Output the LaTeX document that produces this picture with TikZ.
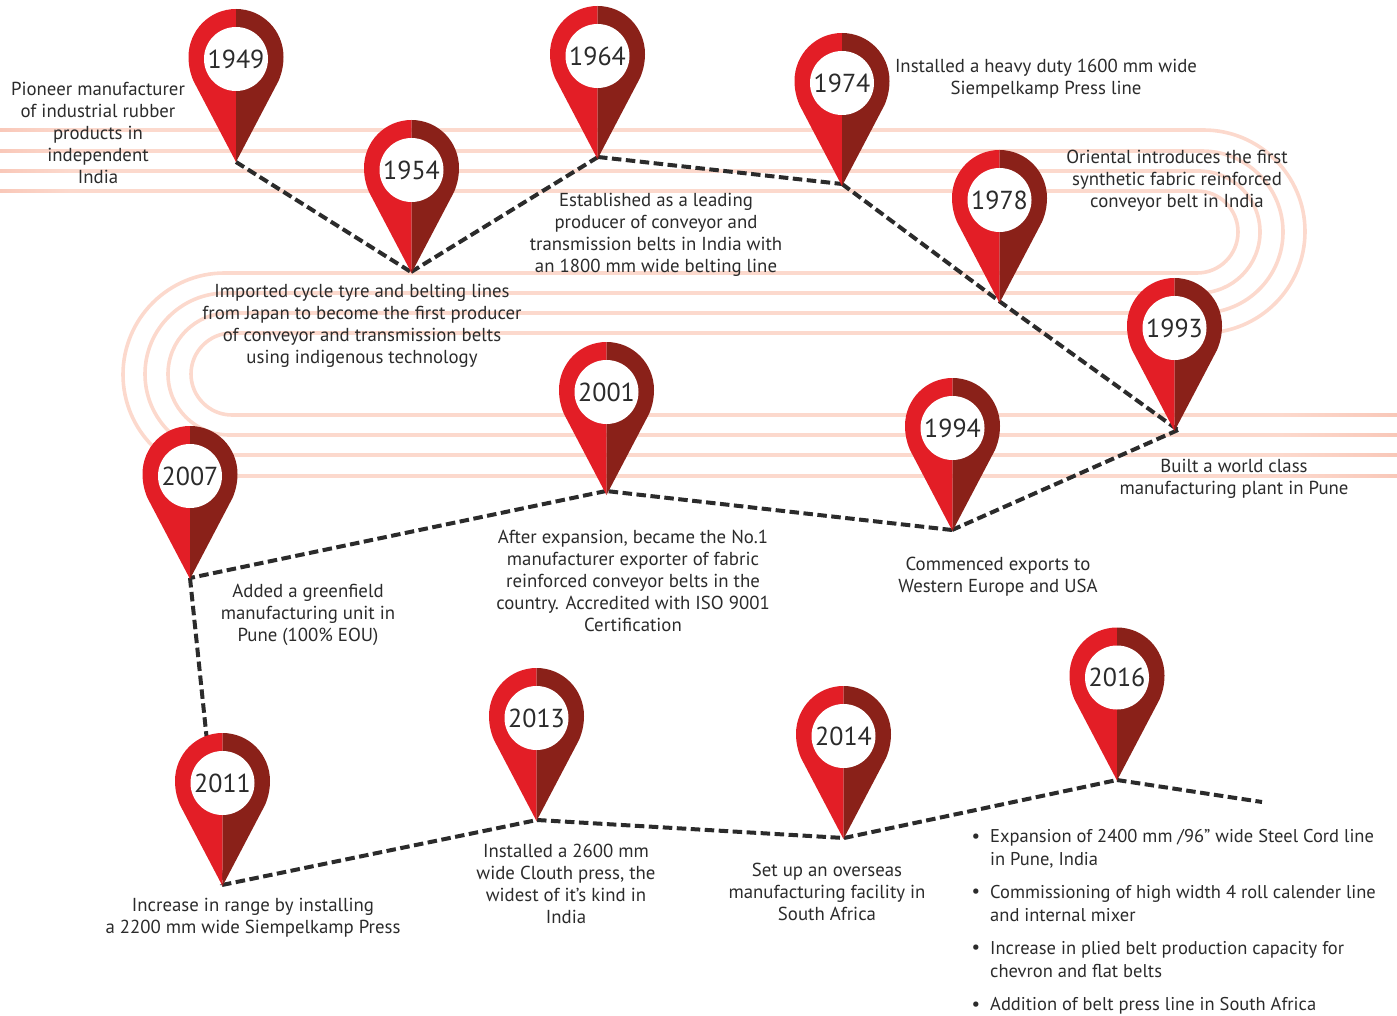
\documentclass[tikz,border=0pt]{standalone}
\usepackage{fontspec}
\setmainfont{PT Sans}
\definecolor{pinred}{HTML}{E31E26}
\definecolor{pindark}{HTML}{8A2119}
\definecolor{belt}{HTML}{FCD9CD}
\definecolor{beltdk}{HTML}{F9C8B9}
\definecolor{ink}{HTML}{2B2B2B}
\tikzset{
  beltline/.style={draw=belt,line width=3.6pt},
  conn/.style={draw=ink,line width=4pt,dash pattern=on 9.5pt off 4.5pt},
  yearlabel/.style={circle,fill=white,inner sep=0pt,minimum size=64pt,text=ink,font=\fontsize{26}{28}\selectfont},
  note/.style={align=center,text=ink,inner sep=0pt,font=\fontsize{18.8}{22}\selectfont},
  bullettext/.style={align=left,anchor=west,text=ink,inner sep=0pt,font=\fontsize{18.5}{23}\selectfont},
  bulletmark/.style={text=ink,inner sep=0pt,font=\fontsize{19}{23}\selectfont}
}
\newcommand{\mappin}[3]{%
  \begin{scope}[shift={(#1,#2)}]
    \fill[pinred] (0,103) -- (-42.5,22) .. controls (-45.5,15) and (-47.5,7) .. (-47.5,-2)
      .. controls (-47.5,-28.5) and (-26.5,-50) .. (0,-50) -- cycle;
    \fill[pindark] (0,103) -- (42.5,22) .. controls (45.5,15) and (47.5,7) .. (47.5,-2)
      .. controls (47.5,-28.5) and (26.5,-50) .. (0,-50) -- cycle;
    \node[yearlabel] (y#3) at (0,0) {#3};
  \end{scope}}
\newcommand{\beltloop}[5]{%
  \draw[beltline] (#1,#2) -- (#3,#2) .. controls +(#5*0.552,0) and (#3+#5,#2+#5*0.448) .. (#3+#5,#2+#5)
    .. controls (#3+#5,#2+#5*1.552) and (#3+#5*0.552,#2+#5*2) .. (#3,#2+#5*2) -- (#4,#2+#5*2);}
\begin{document}
\begin{tikzpicture}[x=1pt,y=-1pt]
\useasboundingbox (0,0) rectangle (1397,1016);
% belts, right-hand turns
\beltloop{0}{130}{1203.5}{227}{101.5}
\beltloop{0}{151}{1202}{229}{81}
\beltloop{0}{171}{1199}{231}{61}
\beltloop{0}{191}{1197}{232}{41}
% belts, left-hand turns
\draw[beltline] (1000,273) -- (224.5,273) .. controls (168.5,273) and (123,318.5) .. (123,374.5)
  .. controls (123,430.5) and (168.5,476) .. (224.5,476) -- (1397,476);
\draw[beltline] (1100,293) -- (226,293) .. controls (181.3,293) and (145,329.3) .. (145,374)
  .. controls (145,418.7) and (181.3,455) .. (226,455) -- (1397,455);
\draw[beltline] (1100,313) -- (229,313) .. controls (195.3,313) and (168,340.3) .. (168,374)
  .. controls (168,407.7) and (195.3,435) .. (229,435) -- (1397,435);
\draw[beltline] (1100,333) -- (232,333) .. controls (209.4,333) and (191,351.4) .. (191,374)
  .. controls (191,396.6) and (209.4,415) .. (232,415) -- (1397,415);
% darker ends of the belts
\foreach \yy in {130,151,171,191}{
  \fill[left color=beltdk,right color=belt] (0,\yy-1.8) rectangle (70,\yy+1.8);}
\foreach \yy in {415,435,455,476}{
  \fill[left color=belt,right color=beltdk] (1280,\yy-1.8) rectangle (1397,\yy+1.8);}
% tips
\coordinate (t1949) at (236,162);
\coordinate (t1954) at (411,272);
\coordinate (t1964) at (598,157);
\coordinate (t1974) at (842,184);
\coordinate (t1978) at (999,301);
\coordinate (t1993) at (1178,430);
\coordinate (t1994) at (952,530);
\coordinate (t2001) at (606,491);
\coordinate (t2007) at (190,578);
\coordinate (t2011) at (222,885);
\coordinate (t2013) at (537,820);
\coordinate (t2014) at (844,838);
\coordinate (t2016) at (1117,780);
\coordinate (tend) at (1262,802);
% connectors
\draw[conn] (t1949) -- (t1954);
\draw[conn] (t1954) -- (t1964);
\draw[conn] (t1964) -- (t1974);
\draw[conn] (t1974) -- (t1978);
\draw[conn] (t1978) -- (t1993);
\draw[conn] (t1993) -- (t1994);
\draw[conn] (t1994) -- (t2001);
\draw[conn] (t2001) -- (t2007);
\draw[conn] (t2007) -- (t2011);
\draw[conn] (t2011) -- (t2013);
\draw[conn] (t2013) -- (t2014);
\draw[conn] (t2014) -- (t2016);
\draw[conn] (t2016) -- (tend);
% pins
\mappin{236}{59}{1949}
\mappin{411.5}{170}{1954}
\mappin{597.5}{56}{1964}
\mappin{842}{83}{1974}
\mappin{999.5}{200}{1978}
\mappin{1174.5}{328}{1993}
\mappin{952.5}{428}{1994}
\mappin{606.5}{392}{2001}
\mappin{190}{476}{2007}
\mappin{222.5}{783}{2011}
\mappin{536.5}{718}{2013}
\mappin{843.5}{736}{2014}
\mappin{1117}{677.5}{2016}
% notes
\node[note] (n1949) at (98,133) {Pioneer manufacturer\\of industrial rubber\\products in\\independent\\India};
\node[note] (n1974) at (1046,78.5) {Installed a heavy duty 1600 mm wide\\Siempelkamp Press line};
\node[note] (n1978) at (1177,181) {Oriental introduces the first\\synthetic fabric reinforced\\conveyor belt in India};
\node[note] (n1964) at (656,234.5) {Established as a leading\\producer of conveyor and\\transmission belts in India with\\an 1800 mm wide belting line};
\node[note] (n1954) at (362,326) {Imported cycle tyre and belting lines\\from Japan to become the first producer\\of conveyor and transmission belts\\using indigenous technology};
\node[note] (n1993) at (1234,479) {Built a world class\\manufacturing plant in Pune};
\node[note] (n2001) at (633,581) {After expansion, became the No.1\\manufacturer exporter of fabric\\reinforced conveyor belts in the\\country. Accredited with ISO 9001\\Certification};
\node[note] (n1994) at (998,577) {Commenced exports to\\Western Europe and USA};
\node[note] (n2007) at (308,615) {Added a greenfield\\manufacturing unit in\\Pune (100\% EOU)};
\node[note] (n2011) at (253,918) {Increase in range by installing\\a 2200 mm wide Siempelkamp Press};
\node[note] (n2013) at (566,884) {Installed a 2600 mm\\wide Clouth press, the\\widest of it’s kind in\\India};
\node[note] (n2014) at (827,892) {Set up an overseas\\manufacturing facility in\\South Africa};
% bullets
\node[bulletmark] (m1) at (976,838) {•};
\node[bullettext] (b1) at (990,848.5) {Expansion of 2400 mm /96” wide Steel Cord line\\in Pune, India};
\node[bulletmark] (m2) at (976,893) {•};
\node[bullettext] (b2) at (990,903.5) {Commissioning of high width 4 roll calender line\\and internal mixer};
\node[bulletmark] (m3) at (976,949) {•};
\node[bullettext] (b3) at (990,959.5) {Increase in plied belt production capacity for\\chevron and flat belts};
\node[bulletmark] (m4) at (976,1006) {•};
\node[bullettext] (b4) at (990,1006) {Addition of belt press line in South Africa};
\end{tikzpicture}
\end{document}
